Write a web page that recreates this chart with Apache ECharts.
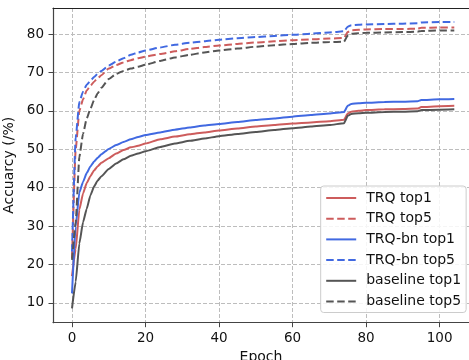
<!DOCTYPE html>
<html>
<head>
<meta charset="utf-8">
<script src="https://cdn.jsdelivr.net/npm/echarts@6/dist/echarts.min.js"></script>
<style>html,body{margin:0;padding:0;background:#fff}#c{width:469px;height:360px}</style>
</head>
<body>
<div id="c"></div>
<script>
const epochs = [0,1,2,3,4,5,6,7,8,10,12,14,16,18,20,24,28,32,36,40,45,50,55,60,65,70,74,75,76,78,80,85,90,94,95,100,104];

const trqTop1 =      [17.0,24.0,34.3,38.5,41.2,43.0,44.5,45.6,46.5,47.7,48.9,49.8,50.5,50.9,51.5,52.6,53.3,53.9,54.4,54.9,55.4,55.9,56.3,56.7,57.0,57.3,57.7,59.3,59.8,60.0,60.2,60.4,60.5,60.6,61.0,61.2,61.3];
const trqTop5 =      [21.7,50.0,60.0,63.0,65.3,66.5,67.6,68.5,69.3,71.0,71.9,72.6,73.2,73.7,74.1,74.8,75.5,76.1,76.6,77.0,77.4,77.8,78.1,78.4,78.6,78.8,79.0,80.5,81.0,81.1,81.2,81.3,81.3,81.4,81.6,81.7,81.7];
const bnTop1 =       [12.5,30.0,38.8,41.5,43.8,45.5,46.8,47.8,48.7,50.1,51.1,51.9,52.6,53.2,53.7,54.4,55.1,55.7,56.2,56.6,57.1,57.6,58.0,58.5,58.9,59.3,59.7,61.3,61.8,62.0,62.1,62.3,62.4,62.5,62.8,63.0,63.1];
const bnTop5 =       [23.4,53.0,62.3,65.0,66.8,67.8,68.8,69.7,70.4,71.8,72.8,73.7,74.6,75.2,75.7,76.5,77.2,77.7,78.1,78.5,78.9,79.2,79.5,79.8,80.1,80.4,80.7,81.9,82.3,82.4,82.5,82.6,82.7,82.8,83.0,83.1,83.1];
const baseTop1 =     [8.6,15.5,25.5,31.0,34.5,38.0,40.3,41.9,43.0,44.9,46.3,47.4,48.3,48.9,49.5,50.6,51.5,52.2,52.8,53.4,54.0,54.5,55.0,55.5,55.9,56.3,56.8,58.7,59.2,59.4,59.5,59.7,59.8,59.9,60.2,60.3,60.4];
const baseTop5 =     [21.2,31.0,48.0,54.0,58.0,60.5,62.8,64.6,66.0,68.3,69.6,70.4,71.0,71.5,72.0,73.0,73.9,74.6,75.2,75.7,76.2,76.7,77.1,77.4,77.7,77.9,78.0,79.6,80.1,80.2,80.3,80.4,80.5,80.6,80.8,80.9,80.9];

const xTicks = [0,20,40,60,80,100];
const yTicks = [10,20,30,40,50,60,70,80];

const RED = '#cd5c5c', BLUE = '#4169e1', GRAY = '#555555';
const FONT = 'DejaVu Sans';

function pairs(vals){ return epochs.map((e,i)=>[e, vals[i]]); }
function mk(name, vals, color, dashed){
  return {
    name, type:'line', data: pairs(vals), showSymbol:false, symbol:'none',
    smooth:0.15, smoothMonotone:'x',
    lineStyle:{color, width:2, type: dashed ? [7.5,3.5] : 'solid'},
    itemStyle:{color}, animation:false
  };
}

const axisCol = '#444';
const chart = echarts.init(document.getElementById('c'), null, {renderer:'canvas'});
chart.setOption({
  animation:false,
  textStyle:{fontFamily:FONT},
  grid:{left:53, right:0, top:8, bottom:37.3, containLabel:false, outerBoundsMode:'none'},
  xAxis:[{
    type:'value', min:-5.17, max:108,
    name:'Epoch', nameLocation:'middle', nameGap:28,
    nameTextStyle:{fontFamily:FONT, fontSize:14, color:'#111'},
    axisLine:{show:true, onZero:false, lineStyle:{color:axisCol, width:1.2}},
    axisTick:{show:true, length:4.5, customValues:xTicks, lineStyle:{color:axisCol, width:1}},
    axisLabel:{customValues:xTicks, fontFamily:FONT, fontSize:13.5, color:'#111', margin:9},
    splitLine:{show:true, lineStyle:{color:'#bdbdbd', width:1, type:[4,2]}}
  },{
    type:'value', position:'top', min:-5.17, max:108,
    axisLine:{show:true, onZero:false, lineStyle:{color:'#222', width:1.2}},
    axisTick:{show:false}, axisLabel:{show:false}, splitLine:{show:false}
  }],
  yAxis:{
    type:'value', min:4.87, max:86.77,
    name:'Accuarcy (/%)', nameLocation:'middle', nameGap:30,
    nameTextStyle:{fontFamily:FONT, fontSize:14, color:'#111'},
    axisLine:{show:true, onZero:false, lineStyle:{color:axisCol, width:1.2}},
    axisTick:{show:true, length:4.5, customValues:yTicks, lineStyle:{color:axisCol, width:1}},
    axisLabel:{customValues:yTicks, fontFamily:FONT, fontSize:13.5, color:'#111', margin:9},
    splitLine:{show:true, lineStyle:{color:'#bdbdbd', width:1, type:[4,2]}}
  },
  legend:{
    orient:'vertical', left:320.7, top:186,
    itemWidth:30, itemHeight:14, itemGap:6.7,
    padding:[5,5,4,4.5],
    itemStyle:{opacity:0},
    backgroundColor:'rgba(255,255,255,0.85)', borderColor:'#cccccc', borderWidth:1, borderRadius:3,
    textStyle:{fontFamily:FONT, fontSize:14, color:'#111', padding:[0,0,0,5]},
    data:['TRQ top1','TRQ top5','TRQ-bn top1','TRQ-bn top5','baseline top1','baseline top5']
  },
  series:[
    mk('TRQ top1', trqTop1, RED, false),
    mk('TRQ top5', trqTop5, RED, true),
    mk('TRQ-bn top1', bnTop1, BLUE, false),
    mk('TRQ-bn top5', bnTop5, BLUE, true),
    mk('baseline top1', baseTop1, GRAY, false),
    mk('baseline top5', baseTop5, GRAY, true)
  ]
});
</script>
</body>
</html>
